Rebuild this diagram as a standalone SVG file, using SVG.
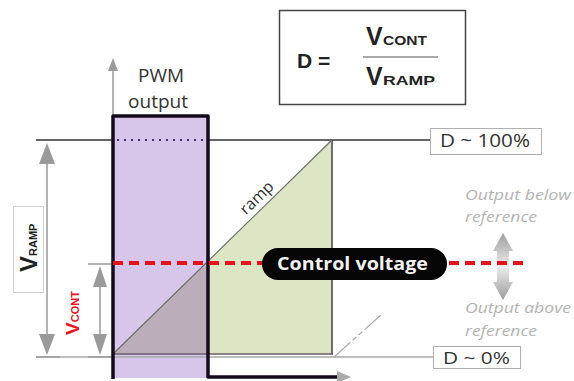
<svg xmlns="http://www.w3.org/2000/svg" width="574" height="381" viewBox="0 0 574 381">
<defs>
<linearGradient id="garrow" x1="0" y1="0" x2="0" y2="1">
<stop offset="0" stop-color="#9c9c9c"/><stop offset="0.5" stop-color="#ececec"/><stop offset="1" stop-color="#9c9c9c"/>
</linearGradient>
</defs>
<style>
.t{font-family:"Open Sans","Liberation Sans",sans-serif;fill:#333}
.f{font-family:"Liberation Sans",Arial,sans-serif;font-weight:bold;fill:#222}
.it{font-family:"Open Sans","Liberation Sans",sans-serif;font-style:italic;fill:#b3b3b3;font-size:14px}
.lbl{fill:#fff;stroke:#b0b0b0;stroke-width:1}
.ga{fill:#9a9a9a}
.gl{stroke:#9a9a9a;stroke-width:1.5;fill:none}
</style>
<rect width="574" height="381" fill="#fff"/>

<g id="regions">
<rect x="113" y="116" width="95" height="262" fill="#d8c5ea"/>
<polygon points="113,354 208,261 208,354" fill="#bcadba"/>
<polygon points="208,261 332,140 332,354 208,354" fill="#dce6c4"/>
</g>

<g id="levels">
<path d="M36,357 H433" stroke="#a8a8a8" stroke-width="1.5"/>
<path d="M113,354 H333" stroke="#6a5a6e" stroke-width="1.5"/>
<path d="M36,140 H113 M208,140 H430" stroke="#333" stroke-width="1.5"/>
<path d="M117,140 H206" stroke="#4a2a62" stroke-width="2" stroke-dasharray="2 5"/>
<path d="M332,140 V354" stroke="#444" stroke-width="1.5"/>
</g>

<g id="ramp">
<path d="M113,354 L332,140" stroke="#6d6d6d" stroke-width="1.2"/>
<path d="M334,357 L382,314" stroke="#aaa" stroke-width="1.2" stroke-dasharray="22 3 5 3 5 3"/>
<text class="t" font-size="16" text-anchor="middle" transform="translate(260.5,201.6) rotate(-44)">ramp</text>
</g>

<g id="connectors">
<path class="gl" d="M113,68 V379"/>
<polygon class="ga" points="113,58 108,71 118,71"/>
<polygon points="337,371 351,377 337,383" fill="#aaa"/>
<path class="gl" d="M47,160 V340" stroke-width="2"/>
<polygon class="ga" points="47,143 39,164 55,164"/>
<polygon class="ga" points="47,355 39,334 55,334"/>
<path class="gl" d="M36,357 H60"/>
<path class="gl" d="M100,285 V335" stroke-width="2"/>
<polygon class="ga" points="100,266 93,287 107,287"/>
<polygon class="ga" points="100,355 93,334 107,334"/>
<path class="gl" d="M88,264 H113 M88,357 H113"/>
<path d="M503,233 L513,251 L509,251 L509,282 L513,282 L503,300 L493,282 L497,282 L497,251 L493,251 Z" fill="url(#garrow)"/>
</g>

<g id="pwm">
<path d="M113,379 V116 H208 V377 H337" fill="none" stroke="#15091d" stroke-width="3.5" stroke-linejoin="round"/>
<text class="t" font-size="19" x="161" y="82" text-anchor="middle">PWM</text>
<text class="t" font-size="19" x="158" y="108" text-anchor="middle">output</text>
</g>

<g id="control-voltage">
<path d="M113,263 H528" stroke="#e3121b" stroke-width="4" stroke-dasharray="10 6"/>
<rect x="262" y="248" width="185" height="32" rx="16" fill="#050505"/>
<text class="t" font-size="18" font-weight="bold" x="277" y="270" textLength="151" lengthAdjust="spacingAndGlyphs" style="fill:#f2f2f2">Control voltage</text>
</g>

<g id="vramp">
<rect x="13.5" y="206.5" width="30" height="86" fill="#fff" stroke="#d0d0d0"/>
<text class="f" transform="translate(37,272) rotate(-90)"><tspan font-size="24">V</tspan><tspan font-size="11">RAMP</tspan></text>
</g>

<g id="vcont">
<text class="f" transform="translate(79,335) rotate(-90)" style="fill:#e8141c"><tspan font-size="19">V</tspan><tspan font-size="11">CONT</tspan></text>
</g>

<g id="formula">
<rect x="279.5" y="10.5" width="186" height="94" fill="#fff" stroke="#444" stroke-width="1.5"/>
<text class="f" font-size="21" x="297" y="68">D =</text>
<text class="f" font-size="25" x="366" y="45">V</text>
<text class="f" font-size="12" x="383" y="45" textLength="44" lengthAdjust="spacingAndGlyphs">CONT</text>
<path d="M363,57 H438" stroke="#555" stroke-width="1"/>
<text class="f" font-size="25" x="366" y="85">V</text>
<text class="f" font-size="12" x="383" y="85" textLength="52" lengthAdjust="spacingAndGlyphs">RAMP</text>
</g>

<g id="d100">
<rect class="lbl" x="430.5" y="128.5" width="111" height="26"/>
<text class="t" font-size="18" x="440" y="147" textLength="90" lengthAdjust="spacingAndGlyphs">D ~ 100%</text>
</g>

<g id="d0">
<rect class="lbl" x="433.5" y="346.5" width="87" height="22"/>
<text class="t" font-size="17" x="443" y="364" textLength="67" lengthAdjust="spacingAndGlyphs">D ~ 0%</text>
</g>

<g id="notes">
<text class="it" x="465" y="200" textLength="106" lengthAdjust="spacingAndGlyphs">Output below</text>
<text class="it" x="465" y="222" textLength="72" lengthAdjust="spacingAndGlyphs">reference</text>
<text class="it" x="465" y="313" textLength="106" lengthAdjust="spacingAndGlyphs">Output above</text>
<text class="it" x="465" y="336" textLength="72" lengthAdjust="spacingAndGlyphs">reference</text>
</g>
</svg>
